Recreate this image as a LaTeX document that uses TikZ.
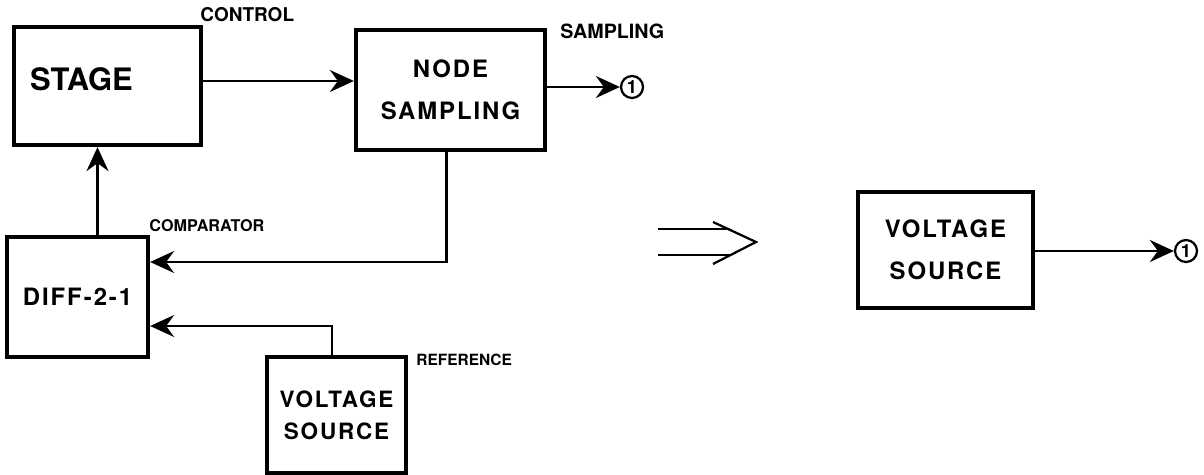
\documentclass[tikz,border=0pt]{standalone}
\usepackage{fontspec}
\setmainfont{TeX Gyre Heros}
\newfontfamily\blockfont[LetterSpace=8]{TeX Gyre Heros}
\usetikzlibrary{arrows.meta,calc}

\tikzset{
  block/.style={draw, line width=3pt, inner sep=0pt, align=center,
    font=\blockfont\bfseries\fontsize{17}{30}\selectfont},
  tag/.style={inner sep=0pt, anchor=west, font=\bfseries\fontsize{12}{14}\selectfont},
  port/.style={circle, draw, line width=1.6pt, minimum size=0.55cm, inner sep=0pt,
    font=\bfseries\fontsize{13}{13}\selectfont},
  flow/.style={line width=1.6pt, -{Stealth[length=6mm,width=5.5mm,inset=2mm]}},
}

\begin{document}
\begin{tikzpicture}[x=0.025cm, y=-0.025cm]
  \useasboundingbox (0,0) rectangle (1204,474);
  % ------- left: the regulated stage with its feedback loop -------
  \node[block, minimum width=4.675cm, minimum height=2.95cm] (stage) at (107.5,86) {};
  \node[anchor=west, inner sep=0pt, font=\bfseries\fontsize{22}{22}\selectfont] (stagetext)
    at ([xshift=4.5mm,yshift=1.75mm]stage.west) {STAGE};
  \node[block, minimum width=4.725cm, minimum height=3.0cm] (samp) at (450.5,90) {NODE\\SAMPLING};
  \node[block, minimum width=3.525cm, minimum height=3.0cm] (diff) at (77.5,297) {DIFF-2-1};
  \node[block, minimum width=3.475cm, minimum height=2.9cm,
    font=\blockfont\bfseries\fontsize{16}{23}\selectfont] (vref) at (336.5,415) {VOLTAGE\\SOURCE};
  \node[port] (outa) at (632,87) {1};
  % labels on the blocks
  \node[tag, font=\bfseries\fontsize{13.5}{15}\selectfont] (lctl) at ([xshift=-0.75mm,yshift=2.5mm]stage.north east) {CONTROL};
  \node[tag, font=\bfseries\fontsize{14}{16}\selectfont] (lsmp) at ([xshift=3.25mm,yshift=-0.75mm]samp.north east) {SAMPLING};
  \node[tag, font=\bfseries\fontsize{11.5}{12}\selectfont] (lcmp) at ([xshift=-0.25mm,yshift=2.25mm]diff.north east) {COMPARATOR};
  \node[tag, font=\bfseries\fontsize{11}{12}\selectfont] (lref) at ([xshift=2mm,yshift=-1.25mm]vref.north east) {REFERENCE};
  % connections
  \draw[flow] ([yshift=1.25mm]stage.east) -- ([yshift=1.25mm]stage.east -| samp.west);
  \draw[flow] (samp.east |- outa) -- (outa);
  \draw[flow] ([xshift=5mm]diff.north) -- ([xshift=5mm]diff.north |- stage.south);
  \draw[flow] ([xshift=-1mm]samp.south) |- ([yshift=8.75mm]diff.east);
  \draw[flow] ([xshift=-1.1mm]vref.north) |- ([yshift=-7.25mm]diff.east);
  % ------- the equivalence sign -------
  \draw[line width=1.6pt] (658,229) -- (730,229);
  \draw[line width=1.6pt] (658,255) -- (730,255);
  \draw[line width=1.6pt] (713,222) -- (756,242) -- (713,264);
  % ------- right: the equivalent source -------
  \node[block, minimum width=4.375cm, minimum height=2.9cm] (vout) at (945.5,250) {VOLTAGE\\SOURCE};
  \node[port] (outb) at (1186,251) {1};
  \draw[flow] (vout.east |- outb) -- (outb);
\end{tikzpicture}
\end{document}
